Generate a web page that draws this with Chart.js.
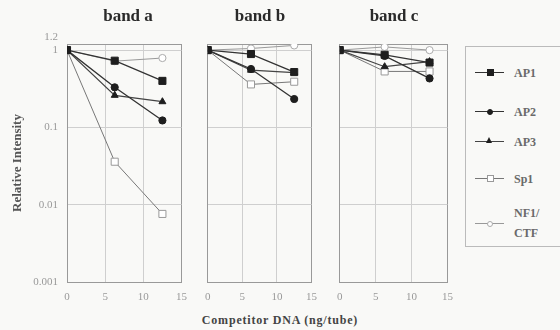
<!DOCTYPE html>
<html>
<head>
<meta charset="utf-8">
<script src="https://cdn.jsdelivr.net/npm/chart.js@4/dist/chart.umd.min.js"></script>
<style>
  body { margin: 0; background: #f9f9f7; }
  #wrap { position: relative; width: 560px; height: 330px; overflow: hidden; font-family: "Liberation Serif", serif; }
  canvas { position: absolute; top: 0; }
  .band { position: absolute; top: 6px; width: 120px; text-align: center; font-weight: bold; font-size: 17px; color: #2a2a2a; }
  #xtitle { position: absolute; left: 180px; width: 200px; top: 313px; text-align: center; font-weight: bold; font-size: 12px; letter-spacing: 0.8px; color: #444; }
  #legend { position: absolute; left: 465px; top: 46px; width: 100px; height: 201px; border: 1px solid #bbb; box-sizing: border-box; }
  .item { position: absolute; left: 0; width: 100px; height: 14px; }
  .item .ln { position: absolute; left: 9px; top: 6px; width: 29px; height: 1px; background: #444; }
  .item .mk { position: absolute; box-sizing: border-box; }
  .item .tx { position: absolute; left: 48px; top: 0; font-weight: bold; font-size: 12px; color: #6a6a6a; line-height: 14px; }
</style>
</head>
<body>
<div id="wrap">
  <canvas id="cA" width="196" height="310" style="left:0px"></canvas>
  <canvas id="cB" width="130" height="310" style="left:196px"></canvas>
  <canvas id="cC" width="134" height="310" style="left:328px"></canvas>
  <div class="band" style="left:68px">band a</div>
  <div class="band" style="left:200px">band b</div>
  <div class="band" style="left:334px">band c</div>
  <div id="xtitle">Competitor DNA (ng/tube)</div>
  <div id="legend"></div>
</div>
<script>
const doses = [0, 6.25, 12.5];
const seriesNames = ['AP1', 'AP2', 'AP3', 'Sp1', 'NF1/CTF'];
const xTicks = [0, 5, 10, 15];
const yTicks = [0.001, 0.01, 0.1, 1, 1.2];

// values per band, one row per series (same order as seriesNames)
const bandA = [
  [1, 0.73, 0.40],
  [1, 0.33, 0.123],
  [1, 0.26, 0.215],
  [1, 0.036, 0.0076],
  [1, 0.72, 0.79]
];
const bandB = [
  [1, 0.89, 0.52],
  [1, 0.57, 0.233],
  [1, 0.55, 0.51],
  [1, 0.36, 0.39],
  [1, 1.05, 1.15]
];
const bandC = [
  [1, 0.87, 0.69],
  [1, 0.84, 0.43],
  [1, 0.61, 0.71],
  [1, 0.53, 0.53],
  [1, 1.1, 1.0]
];

const styles = [
  { pointStyle: 'rect', radius: 5, fill: '#1e1e1e', stroke: '#1e1e1e', line: '#333', width: 1.3 },
  { pointStyle: 'circle', radius: 3.6, fill: '#1e1e1e', stroke: '#1e1e1e', line: '#333', width: 1.3 },
  { pointStyle: 'triangle', radius: 4, fill: '#1e1e1e', stroke: '#1e1e1e', line: '#444', width: 1.2 },
  { pointStyle: 'rect', radius: 5, fill: '#fff', stroke: '#999', line: '#777', width: 1 },
  { pointStyle: 'circle', radius: 3.6, fill: '#fff', stroke: '#aaa', line: '#999', width: 1 }
];

const edgeColor = '#999';
const gridColor = '#cfcfcf';

function makePanel(id, rows, first) {
  const datasets = rows.map((vals, i) => {
    const s = styles[i];
    return {
      label: seriesNames[i],
      data: doses.map((x, j) => ({ x: x, y: vals[j] })),
      showLine: true,
      borderColor: s.line,
      borderWidth: s.width,
      pointStyle: s.pointStyle,
      pointRadius: s.radius,
      pointBackgroundColor: s.fill,
      pointBorderColor: s.stroke,
      pointBorderWidth: 1,
      tension: 0
    };
  });
  return new Chart(document.getElementById(id), {
    type: 'scatter',
    data: { datasets: datasets },
    options: {
      responsive: false,
      animation: false,
      layout: { padding: { top: 44, bottom: 0, left: first ? 0 : 5, right: 7 } },
      plugins: { legend: { display: false }, tooltip: { enabled: false } },
      scales: {
        x: {
          type: 'linear', min: 0, max: 15,
          afterBuildTicks: (scale) => { scale.ticks = xTicks.map(v => ({ value: v })); },
          afterFit: (scale) => { scale.height = 28; },
          grid: {
            drawTicks: false,
            color: (ctx) => (ctx.tick && (ctx.tick.value === 0 || ctx.tick.value === 15)) ? edgeColor : gridColor
          },
          border: { color: edgeColor },
          ticks: {
            padding: 9, color: '#999', autoSkip: false, maxRotation: 0,
            font: { family: 'Liberation Serif', size: 11 }
          }
        },
        y: {
          type: 'logarithmic', min: 0.001, max: 1.2,
          afterBuildTicks: (scale) => { scale.ticks = yTicks.map(v => ({ value: v })); },
          afterFit: (scale) => { scale.width = first ? 67 : 0; },
          grid: {
            drawTicks: false,
            color: (ctx) => (ctx.tick && (ctx.tick.value === 1.2 || ctx.tick.value === 0.001)) ? edgeColor : gridColor
          },
          border: { color: edgeColor },
          title: {
            display: first, text: 'Relative Intensity', color: '#555',
            padding: { top: 10, bottom: 0 },
            font: { family: 'Liberation Serif', size: 13, weight: 'bold' }
          },
          ticks: {
            display: first, padding: 9, color: '#999', autoSkip: false,
            font: { family: 'Liberation Serif', size: 11 },
            callback: (v) => v === 1.2 ? ['1.2', ''] : String(v)
          }
        }
      }
    }
  });
}

makePanel('cA', bandA, true);
makePanel('cB', bandB, false);
makePanel('cC', bandC, false);

// legend
const legendY = [19, 58, 88, 125, 170];
const legend = document.getElementById('legend');
seriesNames.forEach((name, i) => {
  const s = styles[i];
  const item = document.createElement('div');
  item.className = 'item';
  item.style.top = legendY[i] + 'px';
  const ln = document.createElement('div');
  ln.className = 'ln';
  ln.style.background = s.line;
  item.appendChild(ln);
  const mk = document.createElement('div');
  mk.className = 'mk';
  if (s.pointStyle === 'triangle') {
    mk.style.left = '20px'; mk.style.top = '2px'; mk.style.width = '0'; mk.style.height = '0';
    mk.style.borderLeft = '3.5px solid transparent';
    mk.style.borderRight = '3.5px solid transparent';
    mk.style.borderBottom = '6px solid ' + s.fill;
  } else {
    const sz = s.pointStyle === 'rect' ? 7 : 6;
    mk.style.left = (24 - sz / 2) + 'px'; mk.style.top = (6.5 - sz / 2) + 'px';
    mk.style.width = sz + 'px'; mk.style.height = sz + 'px';
    mk.style.background = s.fill;
    mk.style.border = '1px solid ' + s.stroke;
    if (s.pointStyle === 'circle') mk.style.borderRadius = '50%';
  }
  item.appendChild(mk);
  const tx = document.createElement('div');
  tx.className = 'tx';
  if (name === 'NF1/CTF') {
    tx.innerHTML = 'NF1/<br>CTF';
    tx.style.top = '-14px';
    tx.style.lineHeight = '20px';
  } else {
    tx.textContent = name;
  }
  item.appendChild(tx);
  legend.appendChild(item);
});
</script>
</body>
</html>
